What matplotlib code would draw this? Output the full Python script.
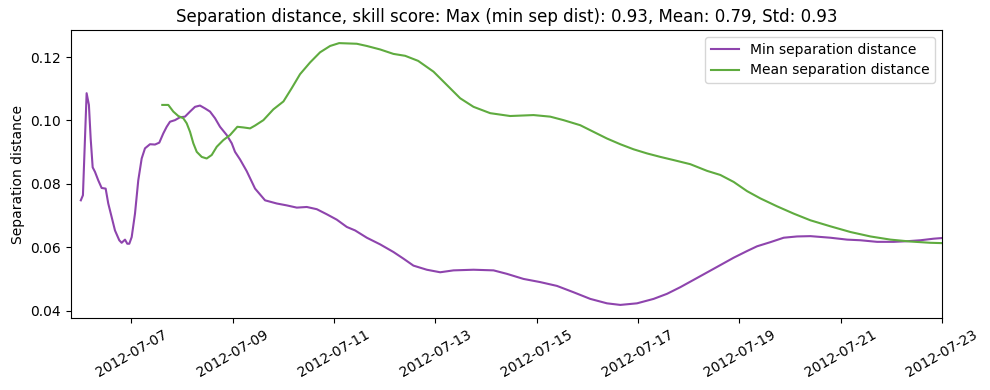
import matplotlib
matplotlib.use("Agg")
import matplotlib.pyplot as plt
import matplotlib.dates as mdates
import pandas as pd

min_times = [
    "2012-07-06 00:00", "2012-07-06 01:00", "2012-07-06 02:45", "2012-07-06 03:50", "2012-07-06 04:40",
    "2012-07-06 05:37", "2012-07-06 06:42", "2012-07-06 08:16", "2012-07-06 09:52", "2012-07-06 11:46",
    "2012-07-06 13:00", "2012-07-06 14:37", "2012-07-06 16:11", "2012-07-06 18:13", "2012-07-06 19:21",
    "2012-07-06 20:56", "2012-07-06 22:01", "2012-07-06 22:58", "2012-07-07 00:06", "2012-07-07 01:40",
    "2012-07-07 03:13", "2012-07-07 04:50", "2012-07-07 06:24", "2012-07-07 08:46", "2012-07-07 11:08",
    "2012-07-07 13:11", "2012-07-07 15:04", "2012-07-07 16:41", "2012-07-07 18:15", "2012-07-07 20:37",
    "2012-07-07 22:59", "2012-07-08 01:21", "2012-07-08 03:44", "2012-07-08 06:06", "2012-07-08 08:28",
    "2012-07-08 10:50", "2012-07-08 13:13", "2012-07-08 15:35", "2012-07-08 17:57", "2012-07-08 21:07",
    "2012-07-08 23:30", "2012-07-09 01:03", "2012-07-09 03:26", "2012-07-09 06:36", "2012-07-09 10:33",
    "2012-07-09 15:17", "2012-07-09 20:50", "2012-07-10 01:35", "2012-07-10 06:19", "2012-07-10 11:04",
    "2012-07-10 15:48", "2012-07-10 20:32", "2012-07-11 01:16", "2012-07-11 06:01", "2012-07-11 09:57",
    "2012-07-11 15:30", "2012-07-11 21:49", "2012-07-12 04:06", "2012-07-12 08:51", "2012-07-12 13:35",
    "2012-07-12 19:56", "2012-07-13 02:15", "2012-07-13 08:34", "2012-07-13 18:03", "2012-07-14 03:32",
    "2012-07-14 09:53", "2012-07-14 17:44", "2012-07-15 01:39", "2012-07-15 09:34", "2012-07-15 17:26",
    "2012-07-16 01:22", "2012-07-16 09:17", "2012-07-16 15:35", "2012-07-16 23:30", "2012-07-17 07:22",
    "2012-07-17 13:43", "2012-07-17 20:02", "2012-07-18 03:57", "2012-07-18 11:50", "2012-07-18 21:19",
    "2012-07-19 03:39", "2012-07-19 08:24", "2012-07-19 14:42", "2012-07-19 21:00", "2012-07-20 03:21",
    "2012-07-20 09:39", "2012-07-20 19:08", "2012-07-21 03:03", "2012-07-21 09:21", "2012-07-21 17:16",
    "2012-07-22 01:09", "2012-07-22 07:30", "2012-07-22 13:48", "2012-07-22 20:07", "2012-07-23 00:00",
]
min_sep = [
    0.0748, 0.0764, 0.1086, 0.1049, 0.0943,
    0.0852, 0.0838, 0.0811, 0.0787, 0.0785,
    0.0738, 0.0695, 0.0653, 0.0622, 0.0614,
    0.0624, 0.0611, 0.0611, 0.0632, 0.0706,
    0.0811, 0.0880, 0.0912, 0.0925, 0.0924,
    0.0930, 0.0959, 0.0980, 0.0996, 0.1001,
    0.1010, 0.1012, 0.1028, 0.1043, 0.1047,
    0.1038, 0.1028, 0.1007, 0.0980, 0.0954,
    0.0928, 0.0901, 0.0877, 0.0840, 0.0785,
    0.0748, 0.0738, 0.0732, 0.0725, 0.0727,
    0.0720, 0.0704, 0.0687, 0.0664, 0.0653,
    0.0630, 0.0609, 0.0585, 0.0564, 0.0542,
    0.0529, 0.0521, 0.0527, 0.0529, 0.0527,
    0.0516, 0.0500, 0.0490, 0.0478, 0.0458,
    0.0437, 0.0423, 0.0418, 0.0423, 0.0437,
    0.0453, 0.0474, 0.0503, 0.0532, 0.0567,
    0.0588, 0.0603, 0.0616, 0.0630, 0.0634,
    0.0635, 0.0630, 0.0624, 0.0622, 0.0617,
    0.0617, 0.0619, 0.0622, 0.0627, 0.0629,
]

mean_times = [
    "2012-07-07 14:36", "2012-07-07 17:27", "2012-07-07 19:49", "2012-07-07 22:11", "2012-07-08 00:33",
    "2012-07-08 02:10", "2012-07-08 03:45", "2012-07-08 05:18", "2012-07-08 06:55", "2012-07-08 09:17",
    "2012-07-08 11:38", "2012-07-08 14:01", "2012-07-08 16:24", "2012-07-08 19:31", "2012-07-08 22:42",
    "2012-07-09 02:10", "2012-07-09 05:00", "2012-07-09 08:11", "2012-07-09 10:34", "2012-07-09 14:30",
    "2012-07-09 19:13", "2012-07-10 00:00", "2012-07-10 03:56", "2012-07-10 07:52", "2012-07-10 12:37",
    "2012-07-10 17:21", "2012-07-10 22:06", "2012-07-11 02:23", "2012-07-11 10:45", "2012-07-11 15:30",
    "2012-07-11 21:49", "2012-07-12 04:06", "2012-07-12 09:39", "2012-07-12 15:49", "2012-07-12 23:05",
    "2012-07-13 05:25", "2012-07-13 11:44", "2012-07-13 18:03", "2012-07-14 01:57", "2012-07-14 11:25",
    "2012-07-14 22:29", "2012-07-15 06:24", "2012-07-15 12:42", "2012-07-15 20:37", "2012-07-16 02:56",
    "2012-07-16 09:17", "2012-07-16 15:35", "2012-07-16 21:53", "2012-07-17 04:15", "2012-07-17 10:34",
    "2012-07-17 16:51", "2012-07-18 00:46", "2012-07-18 08:41", "2012-07-18 15:00", "2012-07-18 21:19",
    "2012-07-19 03:39", "2012-07-19 09:58", "2012-07-19 17:53", "2012-07-20 01:45", "2012-07-20 09:39",
    "2012-07-20 19:08", "2012-07-21 04:38", "2012-07-21 14:07", "2012-07-21 23:36", "2012-07-22 09:04",
    "2012-07-22 18:33", "2012-07-23 00:00",
]
mean_sep = [
    0.1049, 0.1049, 0.1028, 0.1014, 0.1007,
    0.0991, 0.0964, 0.0928, 0.0901, 0.0885,
    0.0880, 0.0891, 0.0917, 0.0938, 0.0954,
    0.0980, 0.0978, 0.0975, 0.0984, 0.1001,
    0.1035, 0.1060, 0.1102, 0.1146, 0.1183,
    0.1215, 0.1235, 0.1244, 0.1242, 0.1235,
    0.1224, 0.1210, 0.1204, 0.1188, 0.1154,
    0.1112, 0.1070, 0.1043, 0.1023, 0.1014,
    0.1017, 0.1012, 0.1001, 0.0985, 0.0964,
    0.0943, 0.0925, 0.0909, 0.0896, 0.0885,
    0.0875, 0.0862, 0.0841, 0.0828, 0.0806,
    0.0777, 0.0754, 0.0729, 0.0706, 0.0685,
    0.0666, 0.0648, 0.0634, 0.0624, 0.0618,
    0.0614, 0.0613,
]

tick_dates = ["2012-07-07", "2012-07-09", "2012-07-11", "2012-07-13", "2012-07-15",
              "2012-07-17", "2012-07-19", "2012-07-21", "2012-07-23"]
x_start = "2012-07-05 19:12"
x_end = "2012-07-23 00:00"

title = "Separation distance, skill score: Max (min sep dist): 0.93, Mean: 0.79, Std: 0.93"

fig, ax = plt.subplots(figsize=(9.9, 3.9), dpi=100)
fig.subplots_adjust(left=0.0714, right=0.9515, top=0.923, bottom=0.1846)

ax.plot(pd.to_datetime(min_times), min_sep, color="#8e44ad", lw=1.5, label="Min separation distance")
ax.plot(pd.to_datetime(mean_times), mean_sep, color="#5fab3f", lw=1.5, label="Mean separation distance")

ax.set_xlim(pd.Timestamp(x_start), pd.Timestamp(x_end))
ax.set_xticks(pd.to_datetime(tick_dates))
ax.xaxis.set_major_formatter(mdates.DateFormatter("%Y-%m-%d"))
plt.setp(ax.get_xticklabels(), rotation=30)
ax.set_ylabel("Separation distance")
ax.set_title(title, fontsize=12)
ax.legend(loc="upper right")

fig.savefig("out.png", dpi=100)
